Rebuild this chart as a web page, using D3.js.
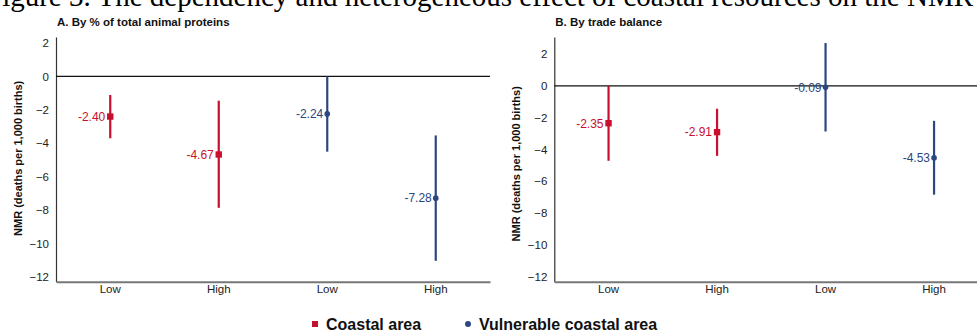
<!DOCTYPE html>
<html><head><meta charset="utf-8">
<script src="https://cdn.jsdelivr.net/npm/d3@7"></script>
<style>
body{margin:0;background:#fff;}
svg{display:block;font-family:Arial,"Liberation Sans",sans-serif;}
</style></head>
<body>
<svg id="chart" width="977" height="331"></svg>
<script>
const groups = ["Low", "High", "Low", "High"];
const seriesOf = ["Coastal area", "Coastal area", "Vulnerable coastal area", "Vulnerable coastal area"];
const panelATitle = "A. By % of total animal proteins";
const panelBTitle = "B. By trade balance";
const panelAEst = [-2.40, -4.67, -2.24, -7.28];
const panelALow = [-3.70, -7.86, -4.50, -11.03];
const panelAHigh = [-1.11, -1.45, 0.00, -3.53];
const panelBEst = [-2.35, -2.91, -0.09, -4.53];
const panelBLow = [-4.71, -4.40, -2.87, -6.84];
const panelBHigh = [0.00, -1.44, 2.69, -2.20];
const yTicks = [2, 0, -2, -4, -6, -8, -10, -12];
const legendItems = ["Coastal area", "Vulnerable coastal area"];
const yTitle = "NMR (deaths per 1,000 births)";
const figTitle = "Figure 3. The dependency and heterogeneous effect of coastal resources on the NMR";

const colors = {"Coastal area": "#c8102e", "Vulnerable coastal area": "#2b4680"};
const svg = d3.select("#chart");

svg.append("text").attr("x", -14).attr("y", 6)
  .attr("font-family", "'Liberation Serif','Times New Roman',serif")
  .attr("font-size", 29).attr("fill", "#000").text(figTitle);

function panel(cfg) {
  const g = svg.append("g");
  const x = d3.scaleBand().domain(d3.range(groups.length)).range([cfg.x0, cfg.x0 + 434]).padding(0);
  const y = d3.scaleLinear().domain(cfg.domain).range([281.7, 37]);
  g.append("text").attr("x", cfg.x0 + 1).attr("y", 26).attr("font-size", 11.5)
    .attr("font-weight", "bold").attr("fill", "#111").text(cfg.title);
  const ya = g.append("g").attr("transform", `translate(${cfg.x0},0)`)
    .call(d3.axisLeft(y).tickValues(yTicks).tickSize(0).tickPadding(7).tickFormat(d3.format("d")));
  ya.select(".domain").attr("stroke", "#333").attr("stroke-width", 1.2);
  ya.selectAll("text").attr("font-size", 11.5).attr("fill", "#222").attr("font-family", "Arial,'Liberation Sans',sans-serif");
  const xa = g.append("g").attr("transform", `translate(0,${y.range()[0]})`)
    .call(d3.axisBottom(x).tickSize(0).tickPadding(3).tickFormat(i => groups[i]));
  xa.select(".domain").attr("stroke", "#777").attr("stroke-width", 2);
  xa.selectAll("text").attr("font-size", 11.5).attr("fill", "#222").attr("font-family", "Arial,'Liberation Sans',sans-serif");
  g.append("line").attr("x1", cfg.x0).attr("x2", cfg.x0 + 434)
    .attr("y1", y(0)).attr("y2", y(0)).attr("stroke", "#111").attr("stroke-width", 1.2);
  const idx = d3.range(groups.length);
  const cx = i => x(i) + x.bandwidth() / 2;
  g.selectAll(".ci").data(idx).join("line")
    .attr("x1", cx).attr("x2", cx)
    .attr("y1", i => y(cfg.low[i])).attr("y2", i => y(cfg.high[i]))
    .attr("stroke", i => colors[seriesOf[i]]).attr("stroke-width", 2.2);
  idx.forEach(i => {
    const c = colors[seriesOf[i]];
    const sq = seriesOf[i] === "Coastal area";
    if (sq) {
      g.append("rect").attr("x", cx(i) - 3.2).attr("y", y(cfg.est[i]) - 3.2)
        .attr("width", 6.4).attr("height", 6.4).attr("fill", c);
    } else {
      g.append("circle").attr("cx", cx(i)).attr("cy", y(cfg.est[i])).attr("r", 2.8).attr("fill", c);
    }
    g.append("text").attr("x", cx(i) - (sq ? 5 : 4)).attr("y", y(cfg.est[i]) + 4.3)
      .attr("text-anchor", "end").attr("font-size", 12).attr("fill", c)
      .text(d3.format(".2f")(cfg.est[i]).replace("−", "-"));
  });
  g.append("text").attr("transform", `translate(${cfg.x0 - 34},${y(-4.9)}) rotate(-90)`)
    .attr("text-anchor", "middle").attr("font-size", 11).attr("font-weight", "bold")
    .attr("fill", "#111").text(yTitle);
}

panel({x0: 56, domain: [-12.28, 2.36], title: panelATitle, est: panelAEst, low: panelALow, high: panelAHigh});
panel({x0: 554.3, domain: [-12.31, 3.07], title: panelBTitle, est: panelBEst, low: panelBLow, high: panelBHigh});

const leg = svg.append("g");
const lx = [312, 465];
legendItems.forEach((name, i) => {
  if (i === 0) leg.append("rect").attr("x", lx[i]).attr("y", 321).attr("width", 6).attr("height", 6).attr("fill", colors[name]);
  else leg.append("circle").attr("cx", lx[i] + 3).attr("cy", 324).attr("r", 3).attr("fill", colors[name]);
  leg.append("text").attr("x", lx[i] + 14).attr("y", 329.5).attr("font-size", 16)
    .attr("font-weight", "bold").attr("fill", "#111").text(name);
});
</script>
</body></html>
